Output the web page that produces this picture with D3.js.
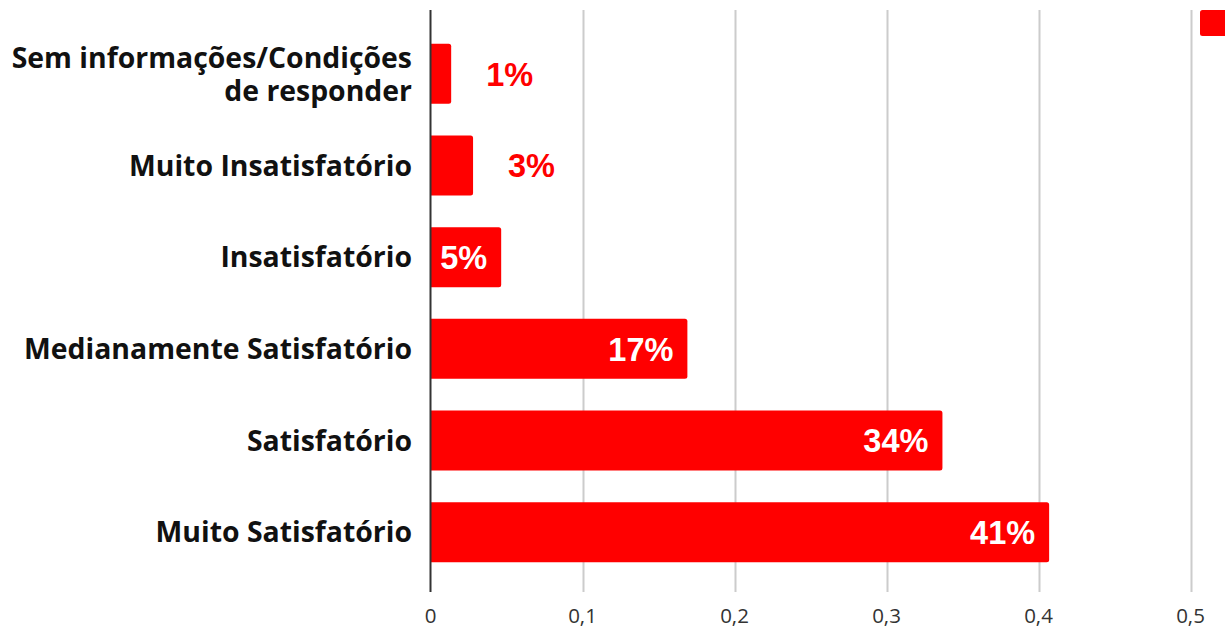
<!DOCTYPE html>
<html>
<head>
<meta charset="utf-8">
<script src="https://cdn.jsdelivr.net/npm/d3@7"></script>
<style>
  html, body { margin: 0; padding: 0; background: #fff; }
  svg { display: block; }
</style>
</head>
<body>
<svg id="chart" width="1225" height="630"></svg>
<script>
const categories = [
  "Sem informações/Condições de responder",
  "Muito Insatisfatório",
  "Insatisfatório",
  "Medianamente Satisfatório",
  "Satisfatório",
  "Muito Satisfatório"
];
const categoryLines = [
  ["Sem informações/Condições", "de responder"],
  ["Muito Insatisfatório"],
  ["Insatisfatório"],
  ["Medianamente Satisfatório"],
  ["Satisfatório"],
  ["Muito Satisfatório"]
];
const values = [0.0136, 0.028, 0.0465, 0.169, 0.3368, 0.407];
const valueLabels = ["1%", "3%", "5%", "17%", "34%", "41%"];
const tickValues = [0, 0.1, 0.2, 0.3, 0.4, 0.5];
const tickLabels = ["0", "0,1", "0,2", "0,3", "0,4", "0,5"];

const RED = "#ff0000";
const svg = d3.select("#chart");

const x = d3.scaleLinear().domain([0, 0.5]).range([430.5, 1190.5]);
const y = d3.scaleBand().domain(categories).range([28, 578]).paddingInner(0.345).paddingOuter(0.1725);

const gridTop = 10, gridBottom = 592;

// gridlines
svg.append("g").selectAll("line")
  .data(tickValues.slice(1))
  .join("line")
  .attr("x1", d => Math.round(x(d)) + 0.5)
  .attr("x2", d => Math.round(x(d)) + 0.5)
  .attr("y1", gridTop).attr("y2", gridBottom)
  .attr("stroke", "#cccccc").attr("stroke-width", 2);

// tick labels
svg.append("g").selectAll("text")
  .data(tickValues)
  .join("text")
  .attr("x", d => x(d))
  .attr("y", 623)
  .attr("text-anchor", "middle")
  .attr("font-family", "'Open Sans', sans-serif")
  .attr("font-size", 20.5)
  .attr("fill", "#333")
  .text((d, i) => tickLabels[i]);

// bars with rounded right corners
function barPath(x0, x1, y0, h, r) {
  r = Math.min(r, (x1 - x0));
  return `M${x0},${y0}H${x1 - r}Q${x1},${y0} ${x1},${y0 + r}V${y0 + h - r}Q${x1},${y0 + h} ${x1 - r},${y0 + h}H${x0}Z`;
}
svg.append("g").selectAll("path")
  .data(categories)
  .join("path")
  .attr("d", (c, i) => barPath(x(0), x(values[i]), y(c), y.bandwidth(), 2.5))
  .attr("fill", RED);

// axis line
svg.append("line")
  .attr("x1", 430.5).attr("x2", 430.5)
  .attr("y1", gridTop).attr("y2", gridBottom)
  .attr("stroke", "#333").attr("stroke-width", 2);

// value labels
svg.append("g").selectAll("text")
  .data(categories)
  .join("text")
  .each(function (c, i) {
    const t = d3.select(this);
    const end = x(values[i]);
    const inside = values[i] > 0.04;
    t.attr("x", inside ? end - 14 : end + 35)
     .attr("y", y(c) + y.bandwidth() / 2)
     .attr("dy", "0.36em")
     .attr("text-anchor", inside ? "end" : "start")
     .attr("fill", inside ? "#fff" : RED);
  })
  .attr("font-family", "'Liberation Sans', Arial, sans-serif")
  .attr("font-weight", "bold")
  .attr("font-size", 32.5)
  .text((c, i) => valueLabels[i]);

// category labels
const catG = svg.append("g");
categories.forEach((c, i) => {
  const lines = categoryLines[i];
  const cy = y(c) + y.bandwidth() / 2;
  const lh = 33;
  const t = catG.append("text")
    .attr("text-anchor", "end")
    .attr("font-family", "'Open Sans', sans-serif")
    .attr("font-weight", "bold")
    .attr("font-size", 28.4)
    .attr("fill", "#111");
  lines.forEach((ln, j) => {
    t.append("tspan")
      .attr("x", 412)
      .attr("y", cy + (j - (lines.length - 1) / 2) * lh)
      .attr("dy", "0.36em")
      .text(ln);
  });
});

// legend marker
svg.append("rect")
  .attr("x", 1200).attr("y", 10)
  .attr("width", 30).attr("height", 26)
  .attr("rx", 2.5)
  .attr("fill", RED);
</script>
</body>
</html>
